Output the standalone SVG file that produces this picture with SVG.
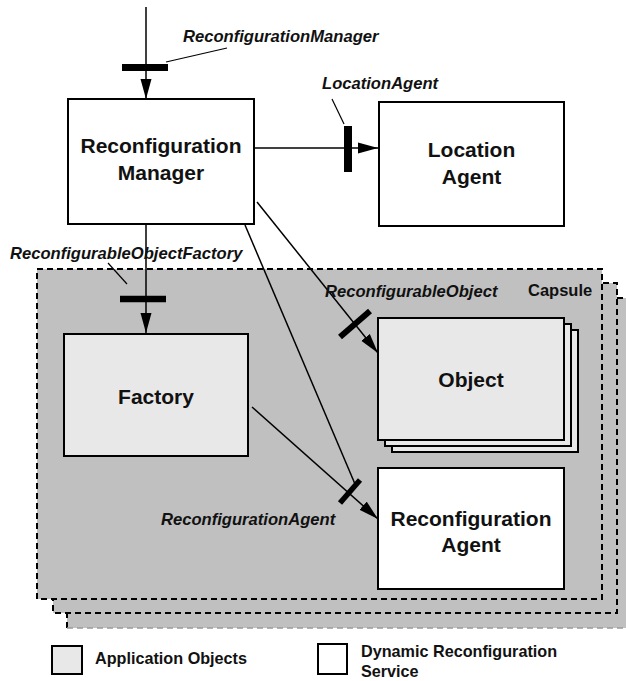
<svg xmlns="http://www.w3.org/2000/svg" width="626" height="681" viewBox="0 0 626 681">
<style>
  .box { stroke: #000; stroke-width: 2; }
  .white { fill: #fff; }
  .app { fill: #e8e8e8; }
  .node { font-family: "Liberation Sans", Arial, Helvetica, sans-serif; font-weight: bold; font-size: 21px; fill: #111; text-anchor: middle; }
  .lbl { font-family: "Liberation Sans", Arial, Helvetica, sans-serif; font-weight: bold; font-style: italic; font-size: 16.6px; fill: #111; }
  .cap { font-family: "Liberation Sans", Arial, Helvetica, sans-serif; font-weight: bold; font-size: 16.5px; fill: #111; }
  .leg { font-family: "Liberation Sans", Arial, Helvetica, sans-serif; font-weight: bold; font-size: 16.2px; fill: #111; }
  .conn { stroke: #000; stroke-width: 1.5; fill: none; }
  .arr { marker-end: url(#ah); }
  .bar { stroke: #000; fill: none; }
  .leader { stroke: #000; stroke-width: 1.2; }
  .dash { fill: none; stroke: #000; stroke-width: 2; stroke-dasharray: 6 4; }
</style>
<defs>
  <marker id="ah" markerUnits="userSpaceOnUse" markerWidth="20" markerHeight="12" refX="20" refY="6" orient="auto">
    <path d="M0,0.5 L20,6 L0,11.5 z" fill="#000"/>
  </marker>
</defs>
<rect width="626" height="681" fill="#fff"/>

<g id="capsule">
  <rect x="67" y="298" width="570" height="330" fill="#c0c0c0"/>
  <path class="dash" d="M67,628 V298 H640"/>
  <path d="M67,628 H626" fill="none" stroke="#9a9a9a" stroke-width="1.5" stroke-dasharray="6 4"/>
  <rect class="dash" x="53" y="283" width="564" height="330" style="fill:#c0c0c0"/>
  <rect class="dash" x="37" y="269" width="565" height="330" style="fill:#c0c0c0"/>
  <text class="cap" x="528" y="296">Capsule</text>
</g>

<g id="reconfiguration-manager">
  <rect class="box white" x="68" y="99" width="186" height="125"/>
  <text class="node" x="161" y="153">Reconfiguration</text>
  <text class="node" x="161" y="180">Manager</text>
</g>

<g id="location-agent">
  <rect class="box white" x="379" y="102" width="185" height="124"/>
  <text class="node" x="471.5" y="157">Location</text>
  <text class="node" x="471.5" y="184">Agent</text>
</g>

<g id="factory">
  <rect class="box app" x="64" y="334" width="184" height="122"/>
  <text class="node" x="156" y="404">Factory</text>
</g>

<g id="object">
  <rect class="box app" x="392" y="330" width="186" height="122"/>
  <rect class="box app" x="385" y="324" width="186" height="122"/>
  <rect class="box app" x="378" y="318" width="186" height="122"/>
  <text class="node" x="471" y="387">Object</text>
</g>

<g id="reconfiguration-agent">
  <rect class="box white" x="378" y="468" width="186" height="121"/>
  <text class="node" x="471" y="526">Reconfiguration</text>
  <text class="node" x="471" y="552">Agent</text>
</g>

<g id="connectors">
  <line class="conn arr" x1="146" y1="7" x2="146" y2="99"/>
  <line class="bar" x1="122" y1="67.5" x2="168" y2="67.5" stroke-width="7"/>
  <line class="leader" x1="166" y1="62" x2="227" y2="48"/>

  <line class="conn arr" x1="254" y1="148" x2="378" y2="148"/>
  <line class="bar" x1="348" y1="126" x2="348" y2="172" stroke-width="8"/>
  <line class="leader" x1="332" y1="99" x2="344" y2="124"/>

  <line class="conn arr" x1="146" y1="224" x2="146" y2="333"/>
  <line class="bar" x1="120" y1="299" x2="166" y2="299" stroke-width="6.5"/>
  <line class="leader" x1="108" y1="263" x2="127" y2="284"/>

  <line class="conn arr" x1="257" y1="202" x2="378" y2="353"/>
  <line class="bar" x1="340" y1="337" x2="370" y2="311" stroke-width="6"/>

  <line class="conn arr" x1="252" y1="407" x2="378" y2="519"/>
  <line class="conn" x1="245" y1="225" x2="355" y2="484"/>
  <line class="bar" x1="340" y1="503" x2="360" y2="480" stroke-width="5.5"/>
</g>

<g id="labels">
  <text class="lbl" x="183" y="42">ReconfigurationManager</text>
  <text class="lbl" x="322" y="89">LocationAgent</text>
  <text class="lbl" x="10" y="259">ReconfigurableObjectFactory</text>
  <text class="lbl" x="325" y="297">ReconfigurableObject</text>
  <text class="lbl" x="161" y="525">ReconfigurationAgent</text>
</g>

<g id="legend">
  <rect class="box app" x="52" y="646" width="30" height="28"/>
  <text class="leg" x="95" y="664">Application Objects</text>
  <rect class="box white" x="318" y="644" width="29" height="30"/>
  <text class="leg" x="361" y="657">Dynamic Reconfiguration</text>
  <text class="leg" x="361" y="677">Service</text>
</g>
</svg>
